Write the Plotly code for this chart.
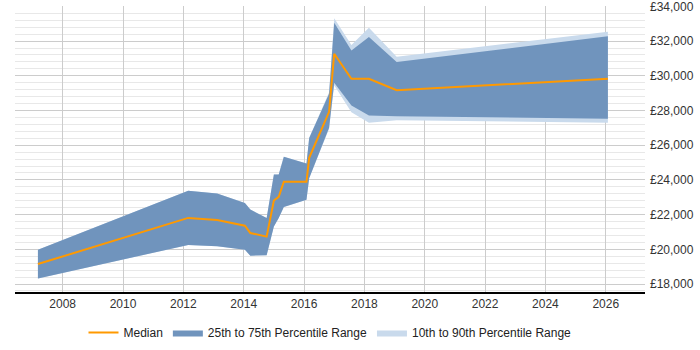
import plotly.graph_objects as go

years = [2007.18, 2012.16, 2013.12, 2014.04, 2014.22, 2014.76, 2015.0, 2015.16, 2015.33,
         2016.08, 2016.17, 2016.83, 2017.0, 2017.57, 2018.15, 2019.07, 2026.07]
median = [19150, 21810, 21690, 21360, 20940, 20730, 22810, 23020, 23890,
          23890, 25270, 27920, 31270, 29830, 29830, 29170, 29830]
p25 = [18320, 20250, 20170, 19980, 19630, 19660, 21320, 21810, 22440,
       22860, 24100, 27000, 29600, 28290, 27710, 27670, 27520]
p75 = [19980, 23380, 23210, 22670, 22290, 21810, 24310, 24310, 25330,
       24940, 26420, 28960, 33060, 31460, 32230, 30800, 32270]
p10 = [18320, 20250, 20170, 19980, 19630, 19660, 21320, 21810, 22440,
       22860, 24100, 26950, 29450, 27900, 27290, 27440, 27290]
p90 = [19980, 23380, 23210, 22670, 22290, 21810, 24310, 24310, 25330,
       24940, 26420, 29050, 33310, 31770, 32770, 31100, 32540]

x_ticks = list(range(2008, 2027, 2))
y_ticks = list(range(18000, 34001, 2000))
y_labels = ["£{:,}".format(v) for v in y_ticks]

DARK = "rgba(112,148,189,1)"
LIGHT = "rgba(201,218,236,1)"
ORANGE = "#ff9900"

fig = go.Figure()
fig.add_trace(go.Scatter(x=years, y=p10, mode="lines", line=dict(width=0, color=LIGHT),
                         showlegend=False, hoverinfo="skip"))
fig.add_trace(go.Scatter(x=years, y=p90, mode="lines", line=dict(width=0, color=LIGHT),
                         fill="tonexty", fillcolor=LIGHT, name="10th to 90th Percentile Range",
                         legendrank=3))
fig.add_trace(go.Scatter(x=years, y=p25, mode="lines", line=dict(width=0, color=DARK),
                         showlegend=False, hoverinfo="skip"))
fig.add_trace(go.Scatter(x=years, y=p75, mode="lines", line=dict(width=0, color=DARK),
                         fill="tonexty", fillcolor=DARK, name="25th to 75th Percentile Range",
                         legendrank=2))
fig.add_trace(go.Scatter(x=years, y=median, mode="lines", line=dict(width=2, color=ORANGE),
                         name="Median", legendrank=1))

fig.update_layout(
    width=700, height=350,
    margin=dict(l=15, r=55, t=6, b=58, autoexpand=False),
    paper_bgcolor="white", plot_bgcolor="white",
    font=dict(family="Liberation Sans, Arial, sans-serif", size=12, color="#333333"),
    showlegend=True,
    legend=dict(orientation="h", x=0.5, xanchor="center", xref="paper",
                y=0.05, yanchor="middle", yref="container",
                font=dict(size=12, color="#222222"), itemwidth=30, traceorder="normal"),
    xaxis=dict(range=[2006.42, 2027.3], tickmode="array", tickvals=x_ticks,
               ticktext=[str(t) for t in x_ticks],
               showgrid=True, gridcolor="#cccccc", gridwidth=1,
               showline=True, linecolor="#000000", linewidth=1.5,
               ticks="", zeroline=False, fixedrange=True),
    yaxis=dict(range=[17540, 34020], side="right", tickmode="array", tickvals=y_ticks,
               ticktext=y_labels, showgrid=True, gridcolor="#cccccc", gridwidth=1,
               ticklabeloverflow="allow", ticklabelstandoff=4,
               minor=dict(dtick=400, tick0=0, showgrid=True, gridcolor="#e8e8e8", gridwidth=1),
               showline=False, zeroline=False, ticks="", fixedrange=True),
)

fig.write_html("out.html")
